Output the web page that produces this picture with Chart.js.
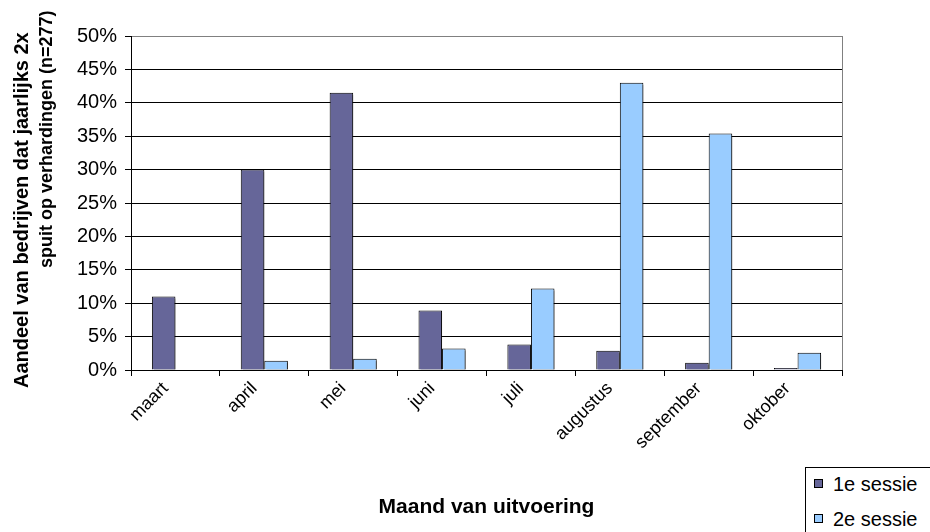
<!DOCTYPE html>
<html>
<head>
<meta charset="utf-8">
<script src="https://cdn.jsdelivr.net/npm/chart.js@4/dist/chart.umd.min.js"></script>
<style>
  html, body { margin: 0; padding: 0; background: #fff; }
  #wrap { position: relative; width: 930px; height: 532px; overflow: hidden; }
  #legend {
    position: absolute; left: 805px; top: 467px; width: 140px; height: 80px;
    border: 1px solid #000; background: #fff;
    font-family: Arial, "Liberation Sans", sans-serif; font-size: 20px; color: #000;
  }
  #legend .item { position: absolute; left: 8px; white-space: nowrap; }
  #legend .box { position: absolute; left: 0; width: 7px; height: 7px; border: 1px solid #000; }
  #legend .lbl { position: absolute; left: 19px; }
</style>
</head>
<body>
<div id="wrap">
  <canvas id="chart" width="930" height="532"></canvas>
  <div id="legend"></div>
</div>
<script>
const months = ['maart', 'april', 'mei', 'juni', 'juli', 'augustus', 'september', 'oktober'];
const sessie1 = [11.0, 30.0, 41.5, 8.9, 3.8, 2.9, 1.1, 0.3];
const sessie2 = [0, 1.4, 1.7, 3.2, 12.2, 43.0, 35.4, 2.6];
const seriesNames = ['1e sessie', '2e sessie'];
const seriesColors = ['#666699', '#99CCFF'];
const yTitle = ['Aandeel van bedrijven dat jaarlijks 2x', 'spuit op verhardingen (n=277)'];
const xTitle = 'Maand van uitvoering';

const font = 'Arial, "Liberation Sans", sans-serif';

// bar shadows, y-axis title and grey plot border (right side)
const extras = {
  id: 'extras',
  beforeDatasetsDraw(chart) {
    const ctx = chart.ctx;
    ctx.save();
    ctx.shadowColor = 'rgba(0,0,0,0.4)';
    ctx.shadowOffsetX = 2;
    ctx.shadowOffsetY = 2;
    ctx.shadowBlur = 0;
  },
  afterDatasetsDraw(chart) {
    chart.ctx.restore();
  },
  afterDraw(chart) {
    const ctx = chart.ctx;
    const a = chart.chartArea;
    ctx.save();
    ctx.strokeStyle = '#808080';
    ctx.lineWidth = 1;
    ctx.beginPath();
    ctx.moveTo(Math.round(a.right) + 0.5, a.top);
    ctx.lineTo(Math.round(a.right) + 0.5, a.bottom);
    ctx.stroke();

    ctx.fillStyle = '#000';
    ctx.textAlign = 'left';
    ctx.textBaseline = 'alphabetic';
    ctx.translate(28, 388);
    ctx.rotate(-Math.PI / 2);
    ctx.font = 'bold 20px ' + font;
    ctx.fillText(yTitle[0], 0, 0);
    ctx.font = 'bold 18px ' + font;
    ctx.fillText(yTitle[1], 120, 24);
    ctx.restore();
  }
};

new Chart(document.getElementById('chart'), {
  type: 'bar',
  data: {
    labels: months,
    datasets: [
      { label: seriesNames[0], data: sessie1, backgroundColor: seriesColors[0] },
      { label: seriesNames[1], data: sessie2, backgroundColor: seriesColors[1] }
    ]
  },
  options: {
    responsive: false,
    animation: false,
    layout: { padding: { left: 0, top: 36, right: 88, bottom: 0 } },
    datasets: {
      bar: {
        borderColor: '#000', borderWidth: 1,
        categoryPercentage: 0.53, barPercentage: 1.0
      }
    },
    plugins: { legend: { display: false }, tooltip: { enabled: false } },
    scales: {
      x: {
        afterFit(s) { s.height = 162; },
        grid: { drawOnChartArea: false, offset: true, tickLength: 6, tickColor: '#000' },
        border: { color: '#000', width: 1 },
        ticks: {
          autoSkip: false, minRotation: 45, maxRotation: 45, padding: 2, labelOffset: -10,
          color: '#000', font: { family: font, size: 18 }
        },
        title: {
          display: true, text: xTitle, color: '#000',
          font: { family: font, size: 21, weight: 'bold' },
          padding: { top: 4, bottom: 12 }
        }
      },
      y: {
        min: 0, max: 50,
        afterFit(s) { s.width = 131; },
        grid: {
          color: ctx => ctx.tick && ctx.tick.value === 50 ? '#808080' : '#000',
          tickColor: '#000', tickLength: 6, lineWidth: 1
        },
        border: { color: '#000', width: 1 },
        ticks: {
          stepSize: 5, padding: 8, color: '#000',
          font: { family: font, size: 20 },
          callback: v => v + '%'
        }
      }
    }
  },
  plugins: [extras]
});

// legend
const legend = document.getElementById('legend');
seriesNames.forEach((name, i) => {
  const item = document.createElement('div');
  item.className = 'item';
  item.style.top = (i === 0 ? 5 : 40) + 'px';
  item.innerHTML = '<span class="box" style="top:6px;background:' + seriesColors[i] + '"></span>' +
    '<span class="lbl">' + name + '</span>';
  legend.appendChild(item);
});
</script>
</body>
</html>
